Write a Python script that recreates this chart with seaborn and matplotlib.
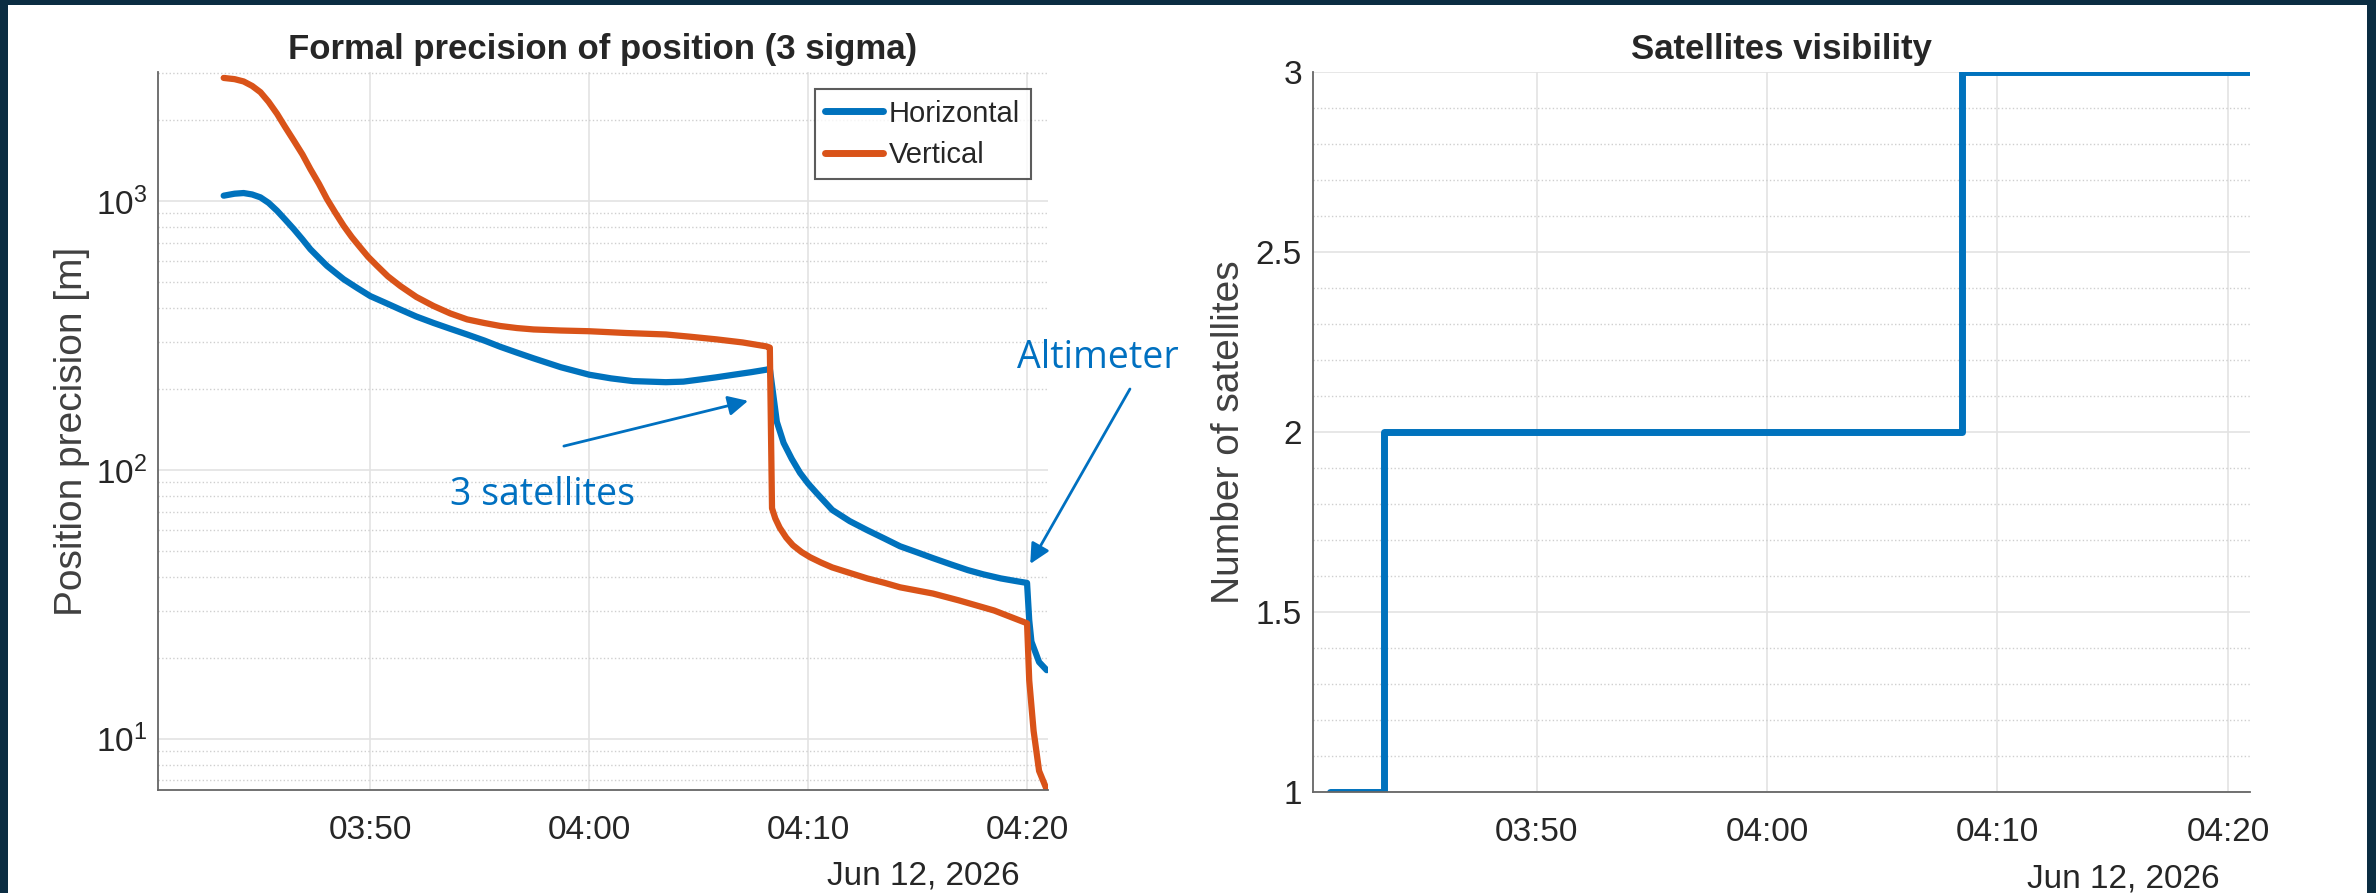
import pandas as pd
import numpy as np
import matplotlib.pyplot as plt
import matplotlib.dates as mdates
from matplotlib.ticker import LogLocator, MultipleLocator, NullFormatter
from matplotlib.patches import Rectangle
import seaborn as sns

sns.set_style('white')
plt.rcParams['font.family'] = ['Liberation Sans', 'DejaVu Sans']

# minutes after 03:40 on Jun 12, 2026
base = pd.Timestamp('2026-06-12 03:40:00')

horiz_min = [3.30, 3.8, 4.21, 4.6, 4.98, 5.35, 5.74, 6.1, 6.5, 6.9, 7.26, 7.65, 8.02, 8.4,
             8.78, 9.4, 10.0, 10.7, 11.37, 12.1, 12.89, 13.65, 14.42, 15.2, 15.94, 16.7,
             17.46, 18.7, 20.0, 21.0, 22.0, 23.5, 24.3, 25.07, 25.8, 26.6, 27.4, 28.1, 28.25,
             28.57, 28.88, 29.25, 29.63, 30.0, 30.39, 31.1, 31.9, 32.7, 33.5, 34.2, 35.0,
             35.7, 36.5, 37.3, 38.0, 38.8, 39.5, 40.0, 40.1, 40.2, 40.55, 40.9]
horiz_val = [1047, 1065, 1071, 1058, 1032, 985, 920, 855, 787, 720, 662, 615, 574, 542,
             512, 475, 443, 418, 395, 372, 352, 335, 319, 303, 287, 273,
             260, 241, 226, 219, 214, 212, 213, 217, 221, 226, 231, 236, 238,
             151, 126, 110, 97.5, 89, 82, 71, 64.5, 59.7, 55.5, 52, 49.3,
             47, 44.6, 42.4, 40.9, 39.5, 38.6, 38, 27.6, 23, 19.3, 18]

vert_min = [3.30, 3.8, 4.21, 4.6, 4.98, 5.35, 5.74, 6.1, 6.5, 6.9, 7.26, 7.65, 8.02, 8.4,
            8.78, 9.15, 9.54, 9.9, 10.31, 10.8, 11.37, 12.1, 12.89, 13.65, 14.42, 15.2,
            15.94, 16.7, 17.46, 18.7, 20.0, 21.7, 23.5, 24.6, 25.8, 27.0, 28.1, 28.25,
            28.35, 28.5, 28.7, 29.0, 29.3, 29.7, 30.1, 30.6, 31.1, 31.9, 32.7, 33.5, 34.2,
            35.7, 36.9, 38.5, 40.0, 40.1, 40.3, 40.55, 40.96]
vert_val = [2870, 2840, 2785, 2680, 2540, 2340, 2110, 1890, 1680, 1490, 1315, 1160, 1017, 905,
            809, 735, 672, 620, 574, 525, 483, 440, 407, 382, 363, 352,
            343, 337, 333, 330, 328, 323, 319, 313, 306, 298, 288, 285,
            72, 66, 61, 56, 52.5, 49.5, 47.3, 45.2, 43.4, 41.4, 39.5, 38, 36.6,
            34.7, 32.7, 30, 26.9, 16.5, 10.7, 7.6, 6.3]

sat_min = [1.05, 3.4, 28.48, 40.96]
sat_count = [1, 2, 3, 3]

blue = '#0072BD'
orange = '#D95319'
note = '#0070C0'

def to_time(mins):
    return base + pd.to_timedelta(mins, unit='m')

df = pd.concat([
    pd.DataFrame({'time': to_time(horiz_min), 'value': horiz_val, 'kind': 'Horizontal'}),
    pd.DataFrame({'time': to_time(vert_min), 'value': vert_val, 'kind': 'Vertical'}),
])
sat = pd.DataFrame({'time': to_time(sat_min), 'count': sat_count})

fig = plt.figure(figsize=(23.76, 8.93), dpi=100, facecolor='#0b2d42')
panel = Rectangle((8 / 2376, 0), 2359 / 2376, 888 / 893, transform=fig.transFigure,
                  facecolor='white', edgecolor='none', zorder=-10)
fig.add_artist(panel)
ax1 = fig.add_axes([0.0665, 0.1153, 0.3746, 0.8041])
ax2 = fig.add_axes([0.5526, 0.1130, 0.3944, 0.8064])

xlim = (to_time(0.3), to_time(40.96))

# left: formal precision
sns.lineplot(data=df, x='time', y='value', hue='kind', palette=[blue, orange],
             estimator=None, sort=False, lw=4.5, ax=ax1)
ax1.set_yscale('log')
ax1.set_ylim(6.45, 3020)
ax1.yaxis.set_major_locator(LogLocator(base=10, numticks=10))
ax1.yaxis.set_minor_locator(LogLocator(base=10, subs=np.arange(2, 10), numticks=20))
ax1.yaxis.set_minor_formatter(NullFormatter())
ax1.set_title('Formal precision of position (3 sigma)', fontsize=25, fontweight='bold', pad=9)
ax1.set_ylabel('Position precision [m]', fontsize=28, color='#404040', va='center')
ax1.yaxis.set_label_coords(-0.0966, 0.5)
leg = ax1.legend(loc='upper right', fontsize=21, frameon=True, fancybox=False,
                 handlelength=2.0, handletextpad=0.2, borderpad=0.35, labelspacing=0.45,
                 borderaxespad=0.6, bbox_to_anchor=(1.0, 1.0))
leg.get_frame().set_edgecolor('#333333')
leg.get_frame().set_linewidth(1.5)
for line in leg.get_lines():
    line.set_linewidth(5)

arrow = dict(arrowstyle='-|>', color=note, lw=2, mutation_scale=30, shrinkA=0, shrinkB=0)
ax1.text(0.4315, 0.411, '3 satellites', transform=ax1.transAxes, ha='center', va='center',
         fontsize=27, color=note, family=['Open Sans', 'DejaVu Sans'])
ax1.annotate('', xy=(0.663, 0.542), xycoords='axes fraction',
             xytext=(0.456, 0.479), textcoords='axes fraction',
             arrowprops=arrow, annotation_clip=False)
ax1.text(0.965, 0.602, 'Altimeter', transform=ax1.transAxes, ha='left', va='center',
         fontsize=27, color=note, family=['Open Sans', 'DejaVu Sans'], clip_on=False)
ax1.annotate('', xy=(0.980, 0.315), xycoords='axes fraction',
             xytext=(1.092, 0.5585), textcoords='axes fraction',
             arrowprops=arrow, annotation_clip=False)

# right: satellites visibility
sns.lineplot(data=sat, x='time', y='count', drawstyle='steps-post', color=blue,
             lw=5, estimator=None, sort=False, ax=ax2)
ax2.set_ylim(1, 3)
ax2.yaxis.set_major_locator(MultipleLocator(0.5))
ax2.yaxis.set_minor_locator(MultipleLocator(0.1))
ax2.yaxis.set_major_formatter(lambda v, p: f'{v:g}')
ax2.set_title('Satellites visibility', fontsize=25, fontweight='bold', pad=9)
ax2.set_ylabel('Number of satellites', fontsize=28, color='#404040', va='center')
ax2.yaxis.set_label_coords(-0.0896, 0.5)

for ax in (ax1, ax2):
    ax.set_xlim(*xlim)
    ax.xaxis.set_major_locator(mdates.MinuteLocator(byminute=range(0, 60, 10)))
    ax.xaxis.set_major_formatter(mdates.DateFormatter('%H:%M'))
    ax.set_xlabel('')
    ax.grid(True, which='major', color='#e3e3e3', lw=1.2)
    ax.grid(True, which='minor', axis='y', color='#cfcfcf', lw=1.0, ls=':')
    ax.set_axisbelow(True)
    for s in ('top', 'right'):
        ax.spines[s].set_visible(False)
    for s in ('left', 'bottom'):
        ax.spines[s].set_color('#666666')
        ax.spines[s].set_linewidth(1.3)
    ax.tick_params(which='major', direction='in', length=9, width=1.2, color='#333333',
                   labelsize=24, labelcolor='#262626')
    ax.tick_params(which='minor', direction='in', length=5, width=1, color='#555555')
    ax.tick_params(axis='x', pad=18)
    ax.tick_params(axis='y', pad=8)
    ax.text(0.968, -0.12, 'Jun 12, 2026', transform=ax.transAxes, ha='right', va='center',
            fontsize=24, color='#262626')

ax2.tick_params(axis='y', which='minor', length=0)

fig.savefig('out.png', dpi=100, facecolor=fig.get_facecolor())
